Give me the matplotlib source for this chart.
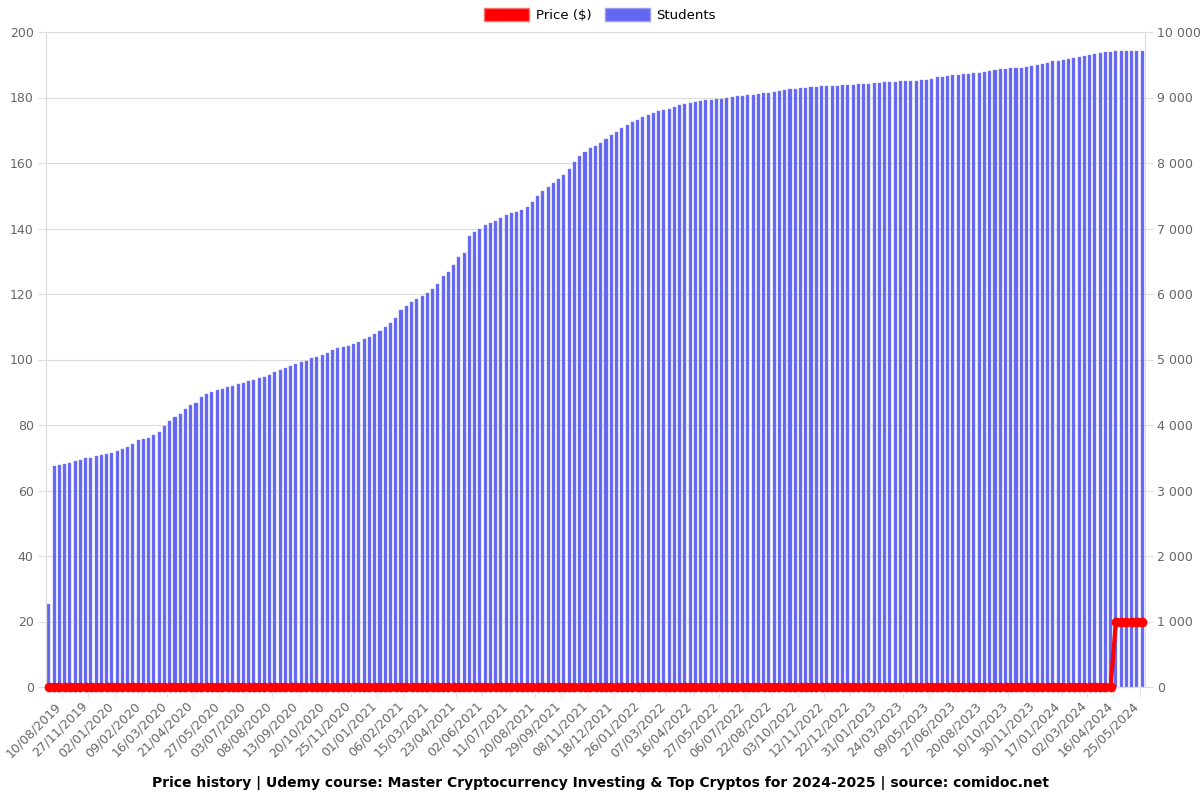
import numpy as np
import matplotlib.pyplot as plt
import matplotlib.transforms as mtransforms
from matplotlib.patches import Patch
from matplotlib.ticker import FuncFormatter, FixedLocator

# ---- data (one value per bar)
students = [
    1260, 3370, 3385, 3405, 3420, 3450, 3470, 3490, 3500, 3520,
    3537, 3557, 3577, 3603, 3629, 3664, 3710, 3771, 3791, 3806,
    3847, 3898, 3990, 4066, 4122, 4168, 4240, 4300, 4336, 4432,
    4473, 4504, 4530, 4555, 4580, 4600, 4620, 4640, 4665, 4690,
    4715, 4740, 4768, 4804, 4835, 4870, 4896, 4931, 4962, 4982,
    5018, 5038, 5064, 5094, 5140, 5171, 5191, 5201, 5237, 5262,
    5313, 5343, 5389, 5435, 5496, 5552, 5628, 5751, 5812, 5878,
    5923, 5964, 6010, 6081, 6148, 6280, 6341, 6443, 6560, 6626,
    6881, 6942, 6992, 7048, 7084, 7114, 7165, 7201, 7232, 7257,
    7283, 7328, 7400, 7496, 7573, 7634, 7690, 7756, 7817, 7904,
    8015, 8107, 8168, 8224, 8264, 8305, 8371, 8427, 8473, 8529,
    8580, 8621, 8661, 8697, 8733, 8758, 8789, 8809, 8829, 8850,
    8880, 8900, 8916, 8931, 8946, 8957, 8962, 8972, 8982, 8993,
    9003, 9018, 9028, 9038, 9043, 9058, 9069, 9074, 9089, 9104,
    9114, 9125, 9135, 9140, 9150, 9160, 9165, 9170, 9176, 9181,
    9181, 9186, 9186, 9191, 9201, 9206, 9211, 9221, 9227, 9232,
    9232, 9237, 9247, 9252, 9257, 9257, 9267, 9272, 9283, 9308,
    9313, 9323, 9338, 9349, 9354, 9364, 9374, 9374, 9384, 9410,
    9425, 9430, 9435, 9450, 9450, 9450, 9461, 9476, 9491, 9506,
    9527, 9552, 9562, 9578, 9593, 9603, 9613, 9629, 9644, 9659,
    9675, 9690, 9700, 9705, 9705, 9705, 9705, 9705, 9705,
]
price = [0] * 203 + [20] * 6

date_labels = [
    "10/08/2019", "27/11/2019", "02/01/2020", "09/02/2020", "16/03/2020",
    "21/04/2020", "27/05/2020", "03/07/2020", "08/08/2020", "13/09/2020",
    "20/10/2020", "25/11/2020", "01/01/2021", "06/02/2021", "15/03/2021",
    "23/04/2021", "02/06/2021", "11/07/2021", "20/08/2021", "29/09/2021",
    "08/11/2021", "18/12/2021", "26/01/2022", "07/03/2022", "16/04/2022",
    "27/05/2022", "06/07/2022", "22/08/2022", "03/10/2022", "12/11/2022",
    "22/12/2022", "31/01/2023", "24/03/2023", "09/05/2023", "27/06/2023",
    "20/08/2023", "10/10/2023", "30/11/2023", "17/01/2024", "02/03/2024",
    "16/04/2024", "25/05/2024",
]
label_step = 5

title = ("Price history | Udemy course: Master Cryptocurrency Investing & "
         "Top Cryptos for 2024-2025 | source: comidoc.net")

BLUE = "#6366f1"
RED = "#ff0000"
GRID = "#dddddd"
TXT = "#666666"

n = len(students)
x = np.arange(n)

fig = plt.figure(figsize=(12, 8), dpi=100)
ax = fig.add_axes([0.0385, 0.14125, 0.9155, 0.81875])
ax2 = ax.twinx()

# bars on the right axis, price line on the left axis (drawn on top)
ax2.bar(x, students, width=0.58, color=BLUE, edgecolor="#8487f4",
        linewidth=0.3, zorder=2)
ax2.set_ylim(0, 10000)
ax2.yaxis.set_major_locator(FixedLocator(np.arange(0, 10001, 1000)))
ax2.yaxis.set_major_formatter(FuncFormatter(lambda v, p: f"{int(v):,}".replace(",", " ")))
ax2.grid(axis="y", color=GRID, linewidth=0.8, zorder=0)
ax2.set_axisbelow(True)

ax.plot(x, price, color=RED, linewidth=3, marker="o", markersize=6,
        zorder=5, clip_on=False)
ax.set_ylim(0, 200)
ax.set_yticks(np.arange(0, 201, 20))
ax.set_zorder(ax2.get_zorder() + 1)
ax.patch.set_visible(False)

ax.set_xlim(-0.5, n - 0.5)
pos = np.arange(0, len(date_labels) * label_step, label_step)
ax.set_xticks(pos)
ax.set_xticklabels(date_labels, rotation=45, ha="right", va="top",
                   rotation_mode="anchor")
ax.tick_params(axis="x", length=0, pad=9, labelsize=9, labelcolor=TXT)
shift = mtransforms.ScaledTranslation(6 / 100, 0, fig.dpi_scale_trans)
for lab in ax.get_xticklabels():
    lab.set_transform(lab.get_transform() + shift)

# vertical grid lines sit between the labelled bars
vlines = pos + label_step / 2
ax2.set_xticks(vlines, minor=True)
ax2.grid(axis="x", which="minor", color=GRID, linewidth=0.8, zorder=0)
ax.set_xticks(vlines, minor=True)
ax.tick_params(axis="x", which="minor", length=7, color=GRID)

for a in (ax, ax2):
    a.tick_params(axis="y", labelsize=9, colors=TXT, length=6, pad=3, color=GRID)
    for s in a.spines.values():
        s.set_color(GRID)
    a.spines["top"].set_visible(False)

handles = [Patch(facecolor=RED, edgecolor="#ff7070"),
           Patch(facecolor=BLUE, edgecolor="#9a9cf6")]
fig.legend(handles, ["Price ($)", "Students"], loc="upper center",
           bbox_to_anchor=(0.5, 1.005), ncol=2, frameon=False, fontsize=9.5,
           handlelength=3.4, handleheight=1.1, columnspacing=1.0,
           handletextpad=0.5)

fig.text(0.5, 0.021, title, ha="center", va="center", fontsize=10,
         fontweight="bold")

fig.savefig("out.png", dpi=100)
